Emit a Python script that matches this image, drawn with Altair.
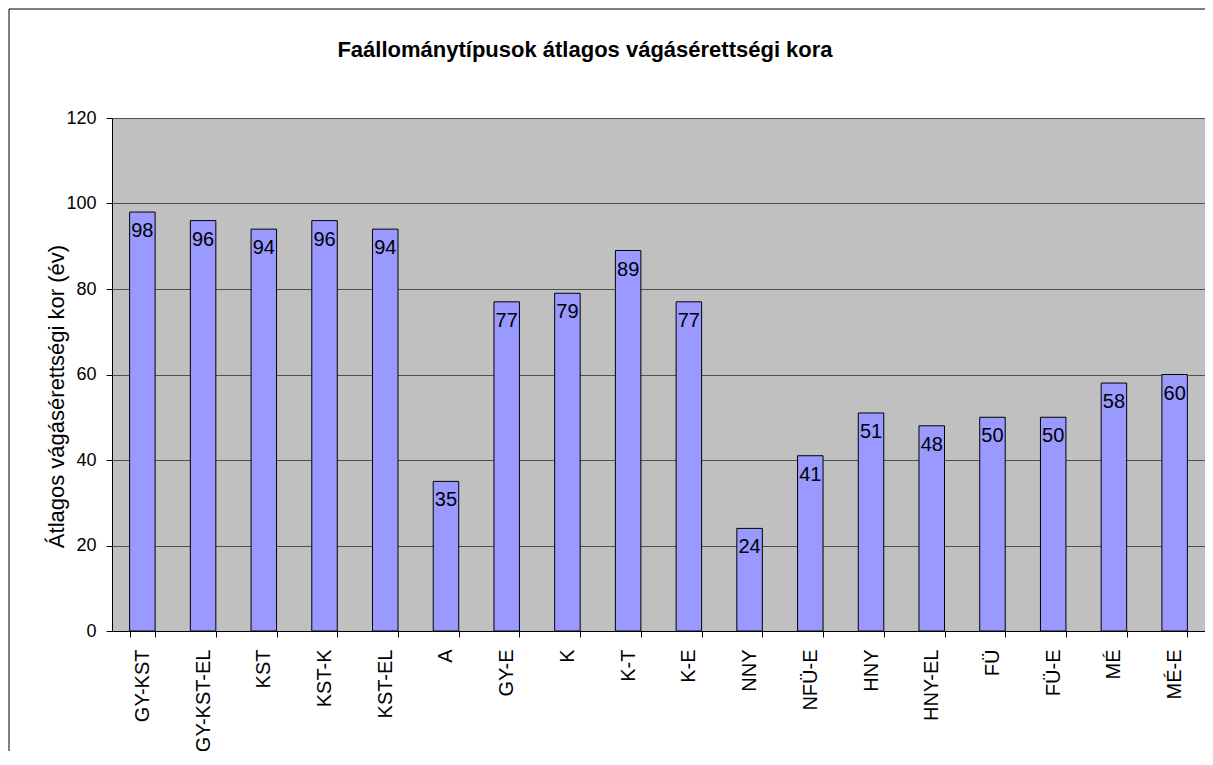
import altair as alt
import pandas as pd

CATEGORIES = ["GY-KST", "GY-KST-EL", "KST", "KST-K", "KST-EL", "A", "GY-E", "K", "K-T",
              "K-E", "NNY", "NFÜ-E", "HNY", "HNY-EL", "FÜ", "FÜ-E", "MÉ", "MÉ-E"]
VALUES = [98, 96, 94, 96, 94, 35, 77, 79, 89, 77, 24, 41, 51, 48, 50, 50, 58, 60]
Y_TICKS = [0, 20, 40, 60, 80, 100, 120]
TITLE = "Faállománytípusok átlagos vágásérettségi kora"
Y_TITLE = "Átlagos vágásérettségi kor (év)"
FONT = "Liberation Sans"

df = pd.DataFrame({"cat": CATEGORIES, "val": VALUES})

x_enc = alt.X(
    "cat:N", sort=CATEGORIES,
    scale=alt.Scale(paddingInner=0.58, paddingOuter=0.29),
    axis=alt.Axis(title=None, labelAngle=270, labelAlign="right", labelBaseline="middle",
                  labelFontSize=20, labelFont=FONT, labelColor="black", labelPadding=12,
                  tickSize=6, tickBand="extent", tickColor="black", domainColor="black",
                  grid=False, labelOverlap=False),
)
y_enc = alt.Y(
    "val:Q", scale=alt.Scale(domain=[0, 120], nice=False),
    axis=alt.Axis(values=Y_TICKS, title=Y_TITLE, titleFont=FONT, titleFontSize=22,
                  titleFontWeight="normal", titleColor="black", titleAngle=270,
                  titleAlign="center", titleBaseline="alphabetic", titleX=-49, titleY=278,
                  labelFontSize=18, labelFont=FONT, labelColor="black", labelPadding=10,
                  tickSize=6, tickColor="black", domainColor="black",
                  gridColor="#505050", gridWidth=1),
)

base = alt.Chart(df)
bars = base.mark_bar(color="#9999FF", stroke="black", strokeWidth=1).encode(x=x_enc, y=y_enc)
labels = base.mark_text(baseline="top", dy=9, fontSize=20, font=FONT, color="black").encode(
    x=alt.X("cat:N", sort=CATEGORIES), y=alt.Y("val:Q"), text=alt.Text("val:Q", format="d"))

title = alt.Chart(pd.DataFrame({"t": [TITLE]})).mark_text(
    font=FONT, fontSize=22, fontWeight="bold", align="center", baseline="alphabetic",
    color="black").encode(x=alt.value(473), y=alt.value(-61), text="t:N")

one = pd.DataFrame({"a": [0]})
frame_left = alt.Chart(one).mark_rule(color="black", strokeWidth=1).encode(
    x=alt.value(-103), y=alt.value(-109), y2=alt.value(700))
frame_top = alt.Chart(one).mark_rule(color="black", strokeWidth=1).encode(
    x=alt.value(-103), x2=alt.value(1093), y=alt.value(-109))

chart = alt.layer(bars, labels, title, frame_left, frame_top).properties(
    width=1093, height=513, autosize="none", background="white",
    padding={"left": 104, "top": 110, "right": 0, "bottom": 120},
).configure_view(fill="#C0C0C0", stroke="#808080", strokeWidth=1)

chart.save("out.html", embed_options={"renderer": "svg", "actions": False})
